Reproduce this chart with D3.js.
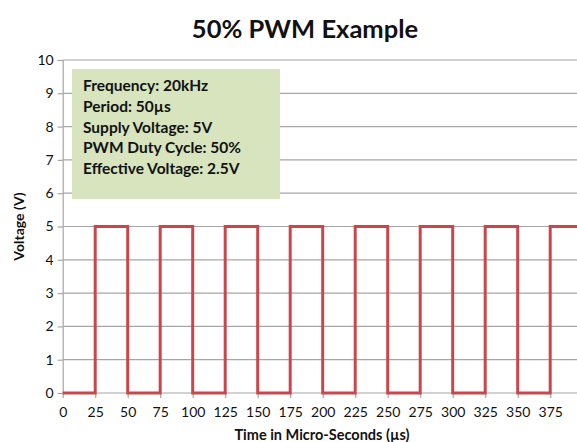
<!DOCTYPE html>
<html>
<head>
<meta charset="utf-8">
<script src="https://cdn.jsdelivr.net/npm/d3@7"></script>
<style>
  body { margin: 0; background: #fff; }
  text { font-family: Lato, "Open Sans", sans-serif; fill: #111; }
</style>
</head>
<body>
<script>
// waveform: time (µs) and voltage at each edge
var times = [0, 25, 50, 75, 100, 125, 150, 175, 200, 225, 250, 275, 300, 325, 350, 375, 400];
var volts = [0, 5, 0, 5, 0, 5, 0, 5, 0, 5, 0, 5, 0, 5, 0, 5, 0];
var xTicks = [0, 25, 50, 75, 100, 125, 150, 175, 200, 225, 250, 275, 300, 325, 350, 375];
var yTicks = [0, 1, 2, 3, 4, 5, 6, 7, 8, 9, 10];
var infoLines = ["Frequency: 20kHz", "Period: 50\u00b5s", "Supply Voltage: 5V", "PWM Duty Cycle: 50%", "Effective Voltage: 2.5V"];

var W = 577, H = 442;
var margin = {left: 62.7, top: 60, bottom: 49};

var svg = d3.select("body").append("svg")
  .attr("width", W)
  .attr("height", H);

var x = d3.scaleLinear().domain([0, 400]).range([margin.left, margin.left + 400 * 1.3]);
var y = d3.scaleLinear().domain([0, 10]).range([H - margin.bottom, margin.top]);

// title
svg.append("text")
  .attr("x", 305).attr("y", 38)
  .attr("text-anchor", "middle")
  .style("font-size", "25.5px").style("font-weight", "bold")
  .text("50% PWM Example");

// gridlines
svg.append("g").selectAll("line")
  .data(yTicks.filter(function(d) { return d > 0; }))
  .enter().append("line")
  .attr("x1", margin.left).attr("x2", W)
  .attr("y1", function(d) { return y(d); })
  .attr("y2", function(d) { return y(d); })
  .attr("stroke", "#a6a6a6").attr("stroke-width", 1.2);

// y axis
var yAxis = svg.append("g")
  .attr("transform", "translate(" + margin.left + ",0)")
  .call(d3.axisLeft(y).tickValues(yTicks).tickSize(5).tickPadding(4));

// x axis
var xAxis = svg.append("g")
  .attr("transform", "translate(0," + y(0) + ")")
  .call(d3.axisBottom(x).tickValues(xTicks).tickSize(5).tickPadding(9));

[yAxis, xAxis].forEach(function(a) {
  a.select(".domain").attr("stroke", "#a6a6a6").attr("stroke-width", 1.2);
  a.selectAll(".tick line").attr("stroke", "#a6a6a6").attr("stroke-width", 1.2);
  a.selectAll(".tick text").style("font-size", "14px").style("font-family", "Lato, sans-serif").attr("fill", "#111");
});
xAxis.select(".domain").attr("d", "M" + margin.left + ",0H" + W);

// info box
var box = svg.append("g");
box.append("rect")
  .attr("x", 72).attr("y", 69)
  .attr("width", 208).attr("height", 130)
  .attr("fill", "#d7e4bd");
box.selectAll("text")
  .data(infoLines)
  .enter().append("text")
  .attr("x", 83)
  .attr("y", function(d, i) { return 91 + i * 20.8; })
  .style("font-size", "15.5px").style("font-weight", "bold")
  .text(function(d) { return d; });

// the pwm line
var line = d3.line()
  .x(function(d, i) { return x(times[i]); })
  .y(function(d) { return y(d); })
  .curve(d3.curveStepAfter);

svg.append("path")
  .datum(volts)
  .attr("fill", "none")
  .attr("stroke", "#c9474a")
  .attr("stroke-width", 3)
  .attr("d", line);

// axis titles
svg.append("text")
  .attr("transform", "translate(24," + ((y(0) + y(10)) / 2) + ") rotate(-90)")
  .attr("text-anchor", "middle")
  .style("font-size", "14px").style("font-weight", "bold")
  .text("Voltage (V)");

svg.append("text")
  .attr("x", 322).attr("y", 440)
  .attr("text-anchor", "middle")
  .style("font-size", "14.5px").style("font-weight", "bold")
  .text("Time in Micro-Seconds (\u00b5s)");
</script>
</body>
</html>
